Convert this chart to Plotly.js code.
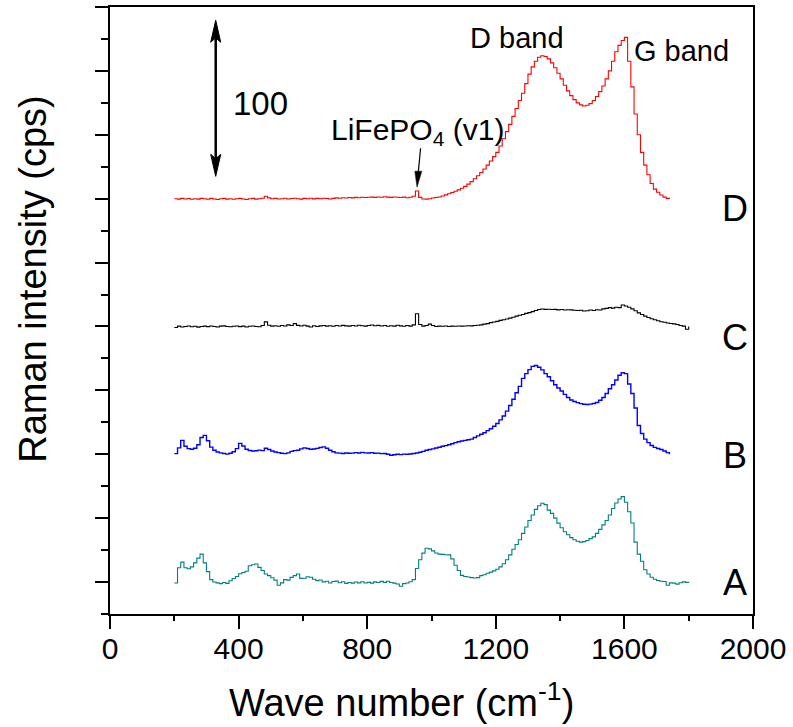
<!DOCTYPE html>
<html>
<head>
<meta charset="utf-8">
<script src="https://cdn.plot.ly/plotly-3.0.1.min.js"></script>
<style>html,body{margin:0;padding:0;background:#fff;}#chart{width:793px;height:727px;}</style>
</head>
<body>
<div id="chart"></div>
<script>
// Wave number grid (cm-1)
const waveNumber = [200,210,220,230,240,250,260,270,280,290,300,310,320,330,340,350,360,370,380,390,
400,410,420,430,440,450,460,470,480,490,500,510,520,530,540,550,560,570,580,590,
600,610,620,630,640,650,660,670,680,690,700,710,720,730,740,750,760,770,780,790,
800,810,820,830,840,850,860,870,880,890,900,910,920,930,940,950,960,970,980,990,
1000,1010,1020,1030,1040,1050,1060,1070,1080,1090,1100,1110,1120,1130,1140,1150,1160,1170,1180,1190,
1200,1210,1220,1230,1240,1250,1260,1270,1280,1290,1300,1310,1320,1330,1340,1350,1360,1370,1380,1390,
1400,1410,1420,1430,1440,1450,1460,1470,1480,1490,1500,1510,1520,1530,1540,1550,1560,1570,1580,1590,
1600,1610,1620,1630,1640,1650,1660,1670,1680,1690,1700,1710,1720,1730,1740,1750,1760,1770,1780,1790,1800];

// Spectrum A (teal), 200-1800
const specA = [-0.6,9,12.5,9,8.3,9.5,12,15,17.5,12,6.5,1.5,0,-0.5,-1,-0.3,-0.8,0.8,2.2,3.5,
5.2,6,6.8,10.2,10.8,11.3,9.2,7.2,5,4,2.7,1.2,-2,-0.5,1.5,1.2,2.9,4,5,2.3,
2.4,3.3,3.0,1.8,0.9,1.3,0.1,0.5,-0.6,0.3,0.6,-0.4,0.2,-0.8,-0.3,-0.7,0,-0.5,0.2,-0.6,
-0.2,-0.7,0.1,-0.3,0.4,-0.2,0.5,-0.3,-0.7,-1.2,-2.6,-1,-0.6,0.2,1.5,8.5,14,18.1,21.2,20.8,
19.5,18.2,17.5,17.3,17.1,17,14.5,10.5,7.2,4.2,3.5,3.2,2.8,2.5,2.8,4.0,4.6,5.5,6.2,7.0,
8.0,9.5,11.5,14,17,20.5,23.5,26.5,30.5,34.5,38.5,42,45.5,47.8,49.3,48.5,45,43,40,36.9,
34,31.5,29.6,27.8,26.5,25.5,25,25.3,26,27.2,28.3,30.5,33,35.8,38.5,42,46,49.5,52,53.5,
50,44,37,25,17.5,13,7.7,5,3,1.8,1,0.5,0.3,-2,-0.5,-0.7,-1.3,-0.4,0.1,-0.2,0];

// Spectrum B (blue), 200-1740
const specB = [0.4,4,8.7,5,3.5,3.1,3.8,6,10.5,11.8,8.5,4.5,2.5,1.4,0.9,0.5,0.1,0.6,1.6,3.5,
6.8,5.2,3.1,2.4,2.0,2.2,2.6,2.3,3.8,3.0,2.0,1.4,1.0,0.6,0.4,0.9,1.8,2.3,2.5,3.4,
4.0,3.6,3.1,3.3,3.7,4.2,4.6,3.8,2.5,1.6,0.9,0.7,0.5,0.8,0.6,0.7,1.0,0.8,1.2,0.9,
0.8,1.0,0.6,0.7,0.4,0.5,0,-0.6,-0.3,0,-0.2,0.1,0,0.2,0.5,0.8,1.3,1.8,2.5,3.0,
3.4,3.9,4.4,5.0,5.4,6.0,6.6,7.3,7.8,8.3,8.7,9.1,9.5,10.5,11.5,12.5,13.5,14.8,16,17.5,
19.3,21.5,24,27,30.5,34.4,38.5,42.5,47.5,50.5,53,55,55.6,54.5,52.8,50.5,48.5,46,43.5,41.5,
39.6,37.5,35.5,34,33,32.3,31.7,31.3,31.2,31.4,31.8,32.4,33.8,35.5,38,41,43.5,46.5,49.5,51,
50.5,44,38,29,18,13,9.5,7.3,5.5,4.3,3.6,3.0,2.0,1.0,0];

// Spectrum C (black), 200-1800
const specC = [-0.6,0.2,-0.3,0,0.3,-0.2,0.1,-0.4,0,0.2,-0.1,0.3,0,-0.3,0.2,0.4,0,-0.2,0.1,0.3,
-0.1,0.2,-0.3,0.1,0.3,0,-0.2,0.6,2.9,0.8,0.2,0.5,0.1,0.6,0.3,1.0,0.6,1.8,0.7,0.3,
0.8,0.2,-0.3,0.5,0,0.4,0.6,0.2,0.5,0.1,0.6,0.3,0.7,0.4,0.2,0.6,0.3,0.8,0.5,0.2,
0.6,0.9,0.5,0.7,0.3,0.6,0.1,0.5,0.2,0.8,0.4,0.1,0.6,0.2,1.0,8,1.2,0.2,0.6,1.5,
0.6,0,0.2,0.1,0.3,0,0.2,0.1,0.3,0.2,0.3,0.5,0.4,0.6,0.8,1.0,1.5,1.8,2.4,2.8,
3.2,3.8,4.2,4.7,5.2,5.8,6.5,7.0,7.5,8.2,8.7,9.3,10,10.6,10.9,10.7,10.8,10.6,10.7,10.4,
10.6,10.3,10.5,10.4,10.2,10.0,10.2,9.7,9.8,10.3,10.0,10.5,10.3,11,11.3,11.8,11.5,12,11.8,13.4,
12.8,12,11,9.8,8.5,7.5,6.5,5.6,4.8,4.2,3.6,3.0,2.6,2.2,1.9,1.6,1.2,0.6,0.2,-1.7,0];

// Spectrum D (red), 200-1740
const specD = [0,-0.3,0.2,-0.2,0.1,-0.4,0,-0.3,0.2,0,-0.4,0.2,-0.2,-0.5,0,0.2,-0.3,0,-0.4,0,
0.2,-0.2,-0.5,0,0.2,-0.3,0,0.3,1.5,0.5,0,0.2,-0.2,0,0.3,-0.2,0.1,0.3,0,-0.3,
0.2,0,0.3,-0.1,0.2,0,0.3,0.1,-0.2,0.2,0.5,0.3,0.6,0.4,0.7,0.5,0.8,0.6,0.9,0.7,
0.9,1.0,0.8,1.1,0.9,1.2,1.0,0.8,1.1,0.9,0.7,1.0,0.6,0.9,1.5,4.8,0.8,-0.2,-0.3,0,
0.4,0.7,1.1,1.7,2.4,3.1,3.9,4.7,5.5,6.5,7.7,9.1,10.7,12.5,14.4,16.4,18.6,21,23.6,26.3,
29,33,37.5,42,46.5,51.5,56.5,61.5,66,72,78,82.5,86,88.5,89.5,89,87.5,85,82,78.5,
75,71,67.5,64.5,62,60,58.7,58,58.5,59.5,61.5,64,67,70.5,75,80,86,92,96,99,
101,86,70,53,40,29,21,15,9.5,6,4,2.3,1,0.2,-0.2];

// Vertical offsets of the stacked spectra (cps)
const seriesNames = ["A","B","C","D"];
const seriesData = [specA, specB, specC, specD];
const seriesOffsets = [20, 100, 180, 260];
const seriesColors = ["#008080", "#0000ff", "#000000", "#ff0000"];

const traces = seriesData.map((s, i) => ({
  x: waveNumber.slice(0, s.length),
  y: s.map(v => v + seriesOffsets[i]),
  type: "scatter",
  mode: "lines",
  name: seriesNames[i],
  line: {color: seriesColors[i], width: i === 1 ? 1.4 : 1.1, shape: "hv"},
  hoverinfo: "skip"
}));

const ARIAL = "Liberation Sans, Arial, sans-serif";

const annotations = [];
// Series letters
const letterY = [20, 99, 173, 254];
seriesNames.forEach((n, i) => {
  annotations.push({x: 1944, y: letterY[i], xref: "x", yref: "y", text: n, showarrow: false,
    xanchor: "center", yanchor: "middle", font: {family: ARIAL, size: 36, color: "#000"}});
});
annotations.push({x: 468, y: 319.6, xref: "x", yref: "y", text: "100", showarrow: false,
  xanchor: "center", yanchor: "middle", font: {family: ARIAL, size: 33, color: "#000"}});
annotations.push({x: 681, y: 302, xref: "x", yref: "y", text: "LiFePO<sub>4</sub> (v1)", showarrow: false,
  xanchor: "left", yanchor: "middle", font: {family: ARIAL, size: 30, color: "#000"}});
annotations.push({x: 1265, y: 360.4, xref: "x", yref: "y", text: "D band", showarrow: false,
  xanchor: "center", yanchor: "middle", font: {family: ARIAL, size: 29, color: "#000"}});
annotations.push({x: 1779, y: 352.3, xref: "x", yref: "y", text: "G band", showarrow: false,
  xanchor: "center", yanchor: "middle", font: {family: ARIAL, size: 29, color: "#000"}});
// Axis titles
annotations.push({x: 0.454, y: -0.142, xref: "paper", yref: "paper", text: "Wave number (cm<sup>-1</sup>)",
  showarrow: false, xanchor: "center", yanchor: "middle", font: {family: ARIAL, size: 38, color: "#000"}});
annotations.push({x: -0.12, y: 0.552, xref: "paper", yref: "paper", text: "Raman intensity (cps)", textangle: -90,
  showarrow: false, xanchor: "center", yanchor: "middle", font: {family: ARIAL, size: 38, color: "#000"}});

// Scale bar arrow (100 cps) and LiFePO4 pointer
const sx = 328.8, yTop = 371.7, yBot = 274.0;
const headLenY = 22 / 1.598, headHalfX = 5 / 0.3215;
const shapes = [
  {type: "line", xref: "x", yref: "y", x0: sx, x1: sx, y0: yBot + headLenY * 0.8, y1: yTop - headLenY * 0.8,
   line: {color: "#000", width: 2.5}},
  {type: "path", xref: "x", yref: "y",
   path: `M${sx},${yTop} L${sx - headHalfX},${yTop - headLenY} L${sx},${yTop - headLenY * 0.8} L${sx + headHalfX},${yTop - headLenY} Z`,
   fillcolor: "#000", line: {color: "#000", width: 1}},
  {type: "path", xref: "x", yref: "y",
   path: `M${sx},${yBot} L${sx - headHalfX},${yBot + headLenY} L${sx},${yBot + headLenY * 0.8} L${sx + headHalfX},${yBot + headLenY} Z`,
   fillcolor: "#000", line: {color: "#000", width: 1}}
];
// small pointer arrow
const px0 = 966, py0 = 291.6, px1 = 955, py1 = 267.2;
const pHead = 16 / 1.598, pHalf = 3.5 / 0.3215;
const pdx = (px1 - px0);
shapes.push({type: "line", xref: "x", yref: "y", x0: px0, y0: py0, x1: px1 - pdx * 0.3, y1: py1 + pHead * 0.8,
  line: {color: "#000", width: 1.2}});
shapes.push({type: "path", xref: "x", yref: "y",
  path: `M${px1},${py1} L${px1 - pHalf + 4},${py1 + pHead} L${px1 + pHalf + 4},${py1 + pHead} Z`,
  fillcolor: "#000", line: {color: "#000", width: 0.5}});

const layout = {
  width: 793, height: 727,
  margin: {l: 110, r: 40, t: 7, b: 113},
  paper_bgcolor: "#fff", plot_bgcolor: "#fff",
  showlegend: false,
  xaxis: {
    range: [0, 2000], tick0: 0, dtick: 400, showgrid: false, zeroline: false,
    showline: true, linecolor: "#000", linewidth: 2, mirror: true,
    ticks: "outside", ticklen: 13, tickwidth: 2, tickcolor: "#000",
    minor: {ticks: "outside", ticklen: 5, tickwidth: 2, dtick: 200, tick0: 0, tickcolor: "#000", showgrid: false},
    tickfont: {family: ARIAL, size: 30, color: "#000"},
    ticklabelstandoff: -6
  },
  yaxis: {
    range: [0, 380], tick0: 20, dtick: 40, showgrid: false, zeroline: false,
    showline: true, linecolor: "#000", linewidth: 2, mirror: true,
    ticks: "outside", ticklen: 13, tickwidth: 2, tickcolor: "#000",
    minor: {ticks: "outside", ticklen: 7, tickwidth: 2, dtick: 20, tick0: 0, tickcolor: "#000", showgrid: false},
    showticklabels: false
  },
  annotations: annotations,
  shapes: shapes
};

Plotly.newPlot("chart", traces, layout, {staticPlot: true, displayModeBar: false});
</script>
</body>
</html>
